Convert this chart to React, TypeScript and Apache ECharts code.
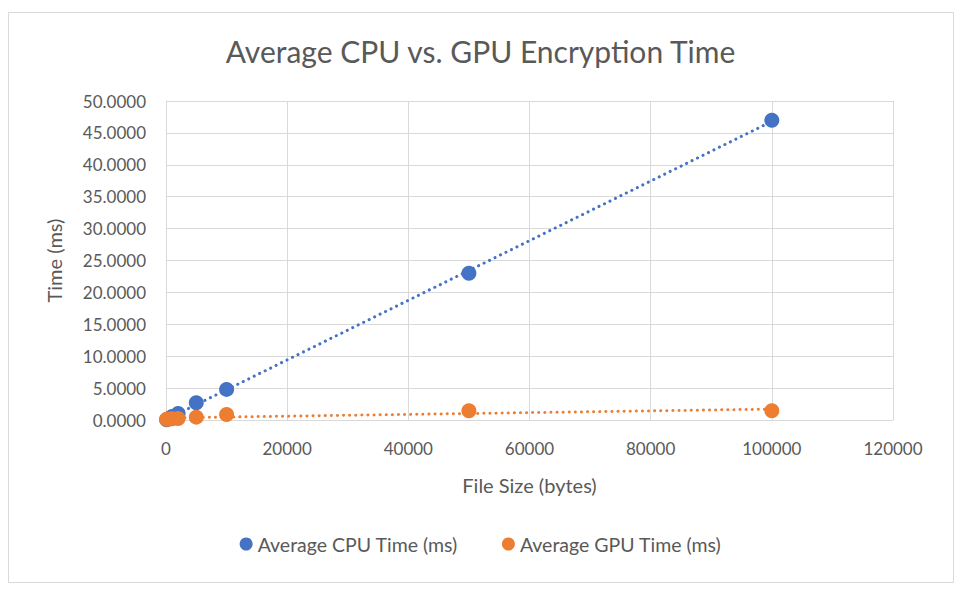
import React, { useEffect, useRef } from "react";
import * as echarts from "echarts";

const fileSizes = [100, 500, 1000, 2000, 5000, 10000, 50000, 100000];
const cpuTimes = [0.05, 0.25, 0.55, 1.0, 2.7, 4.8, 23.0, 47.0];
const gpuTimes = [0.12, 0.15, 0.2, 0.25, 0.45, 0.85, 1.45, 1.45];
const xTicks = [0, 20000, 40000, 60000, 80000, 100000, 120000];

const CPU_NAME = "Average CPU Time (ms)";
const GPU_NAME = "Average GPU Time (ms)";

function linearFit(xs: number[], ys: number[]) {
  const n = xs.length;
  const mx = xs.reduce((a, b) => a + b, 0) / n;
  const my = ys.reduce((a, b) => a + b, 0) / n;
  let sxy = 0, sxx = 0;
  for (let i = 0; i < n; i++) {
    sxy += (xs[i] - mx) * (ys[i] - my);
    sxx += (xs[i] - mx) ** 2;
  }
  const slope = sxy / sxx;
  const b = my - slope * mx;
  const x0 = Math.min(...xs), x1 = Math.max(...xs);
  return [[x0, slope * x0 + b], [x1, slope * x1 + b]];
}

export default function App() {
  const ref = useRef<HTMLDivElement>(null);
  useEffect(() => {
    if (!ref.current) return;
    const chart = echarts.init(ref.current, undefined, { renderer: "svg" });
    const font = "Lato, 'Open Sans', sans-serif";
    const txt = "#595959";
    chart.setOption({
      animation: false,
      backgroundColor: "#ffffff",
      textStyle: { fontFamily: font },
      title: {
        text: "Average CPU vs. GPU Encryption Time",
        left: "center",
        top: 31,
        textStyle: { fontFamily: font, fontSize: 30, fontWeight: "normal", color: txt },
      },
      graphic: [
        {
          type: "rect",
          shape: { x: 8.5, y: 12.5, width: 945, height: 570 },
          style: { fill: "none", stroke: "#d9d9d9", lineWidth: 1 },
          silent: true,
        },
      ],
      legend: {
        data: [CPU_NAME, GPU_NAME],
        bottom: 31,
        left: "center",
        icon: "circle",
        itemWidth: 13,
        itemHeight: 13,
        itemGap: 44,
        textStyle: { fontFamily: font, fontSize: 19.5, color: txt },
      },
      grid: { left: 166, right: 68, top: 101, bottom: 170, containLabel: false },
      xAxis: {
        type: "value",
        min: 0,
        max: xTicks[xTicks.length - 1],
        interval: xTicks[1] - xTicks[0],
        name: "File Size (bytes)",
        nameLocation: "middle",
        nameGap: 55,
        nameTextStyle: { fontFamily: font, fontSize: 20, color: txt },
        axisLine: { lineStyle: { color: "#d9d9d9", width: 1 } },
        axisTick: { show: false },
        axisLabel: { fontFamily: font, fontSize: 17, color: txt, margin: 20, formatter: (v: number) => String(v) },
        splitLine: { lineStyle: { color: "#d9d9d9", width: 1 } },
      },
      yAxis: {
        type: "value",
        min: 0,
        max: 50,
        interval: 5,
        name: "Time (ms)",
        nameLocation: "middle",
        nameGap: 102,
        nameTextStyle: { fontFamily: font, fontSize: 20, color: txt },
        axisLine: { show: true, lineStyle: { color: "#d9d9d9", width: 1 } },
        axisTick: { show: false },
        axisLabel: {
          fontFamily: font,
          fontSize: 17,
          color: txt,
          margin: 20,
          formatter: (v: number) => v.toFixed(4),
        },
        splitLine: { lineStyle: { color: "#d9d9d9", width: 1 } },
      },
      series: [
        {
          name: CPU_NAME + " trend",
          type: "line",
          data: linearFit(fileSizes, cpuTimes),
          symbol: "none",
          lineStyle: { color: "#4472C4", width: 3, type: [0.1, 6], cap: "round" },
          z: 1,
          silent: true,
        },
        {
          name: GPU_NAME + " trend",
          type: "line",
          data: linearFit(fileSizes, gpuTimes),
          symbol: "none",
          lineStyle: { color: "#ED7D31", width: 3, type: [0.1, 6], cap: "round" },
          z: 1,
          silent: true,
        },
        {
          name: CPU_NAME,
          type: "scatter",
          data: fileSizes.map((x, i) => [x, cpuTimes[i]]),
          symbolSize: 15,
          itemStyle: { color: "#4472C4", opacity: 1 },
          z: 3,
        },
        {
          name: GPU_NAME,
          type: "scatter",
          data: fileSizes.map((x, i) => [x, gpuTimes[i]]),
          symbolSize: 15,
          itemStyle: { color: "#ED7D31", opacity: 1 },
          z: 4,
        },
      ],
    });
    return () => chart.dispose();
  }, []);
  return (
    <div
      ref={ref}
      style={{ position: "fixed", left: 0, top: 0, width: 961, height: 590 }}
    />
  );
}
